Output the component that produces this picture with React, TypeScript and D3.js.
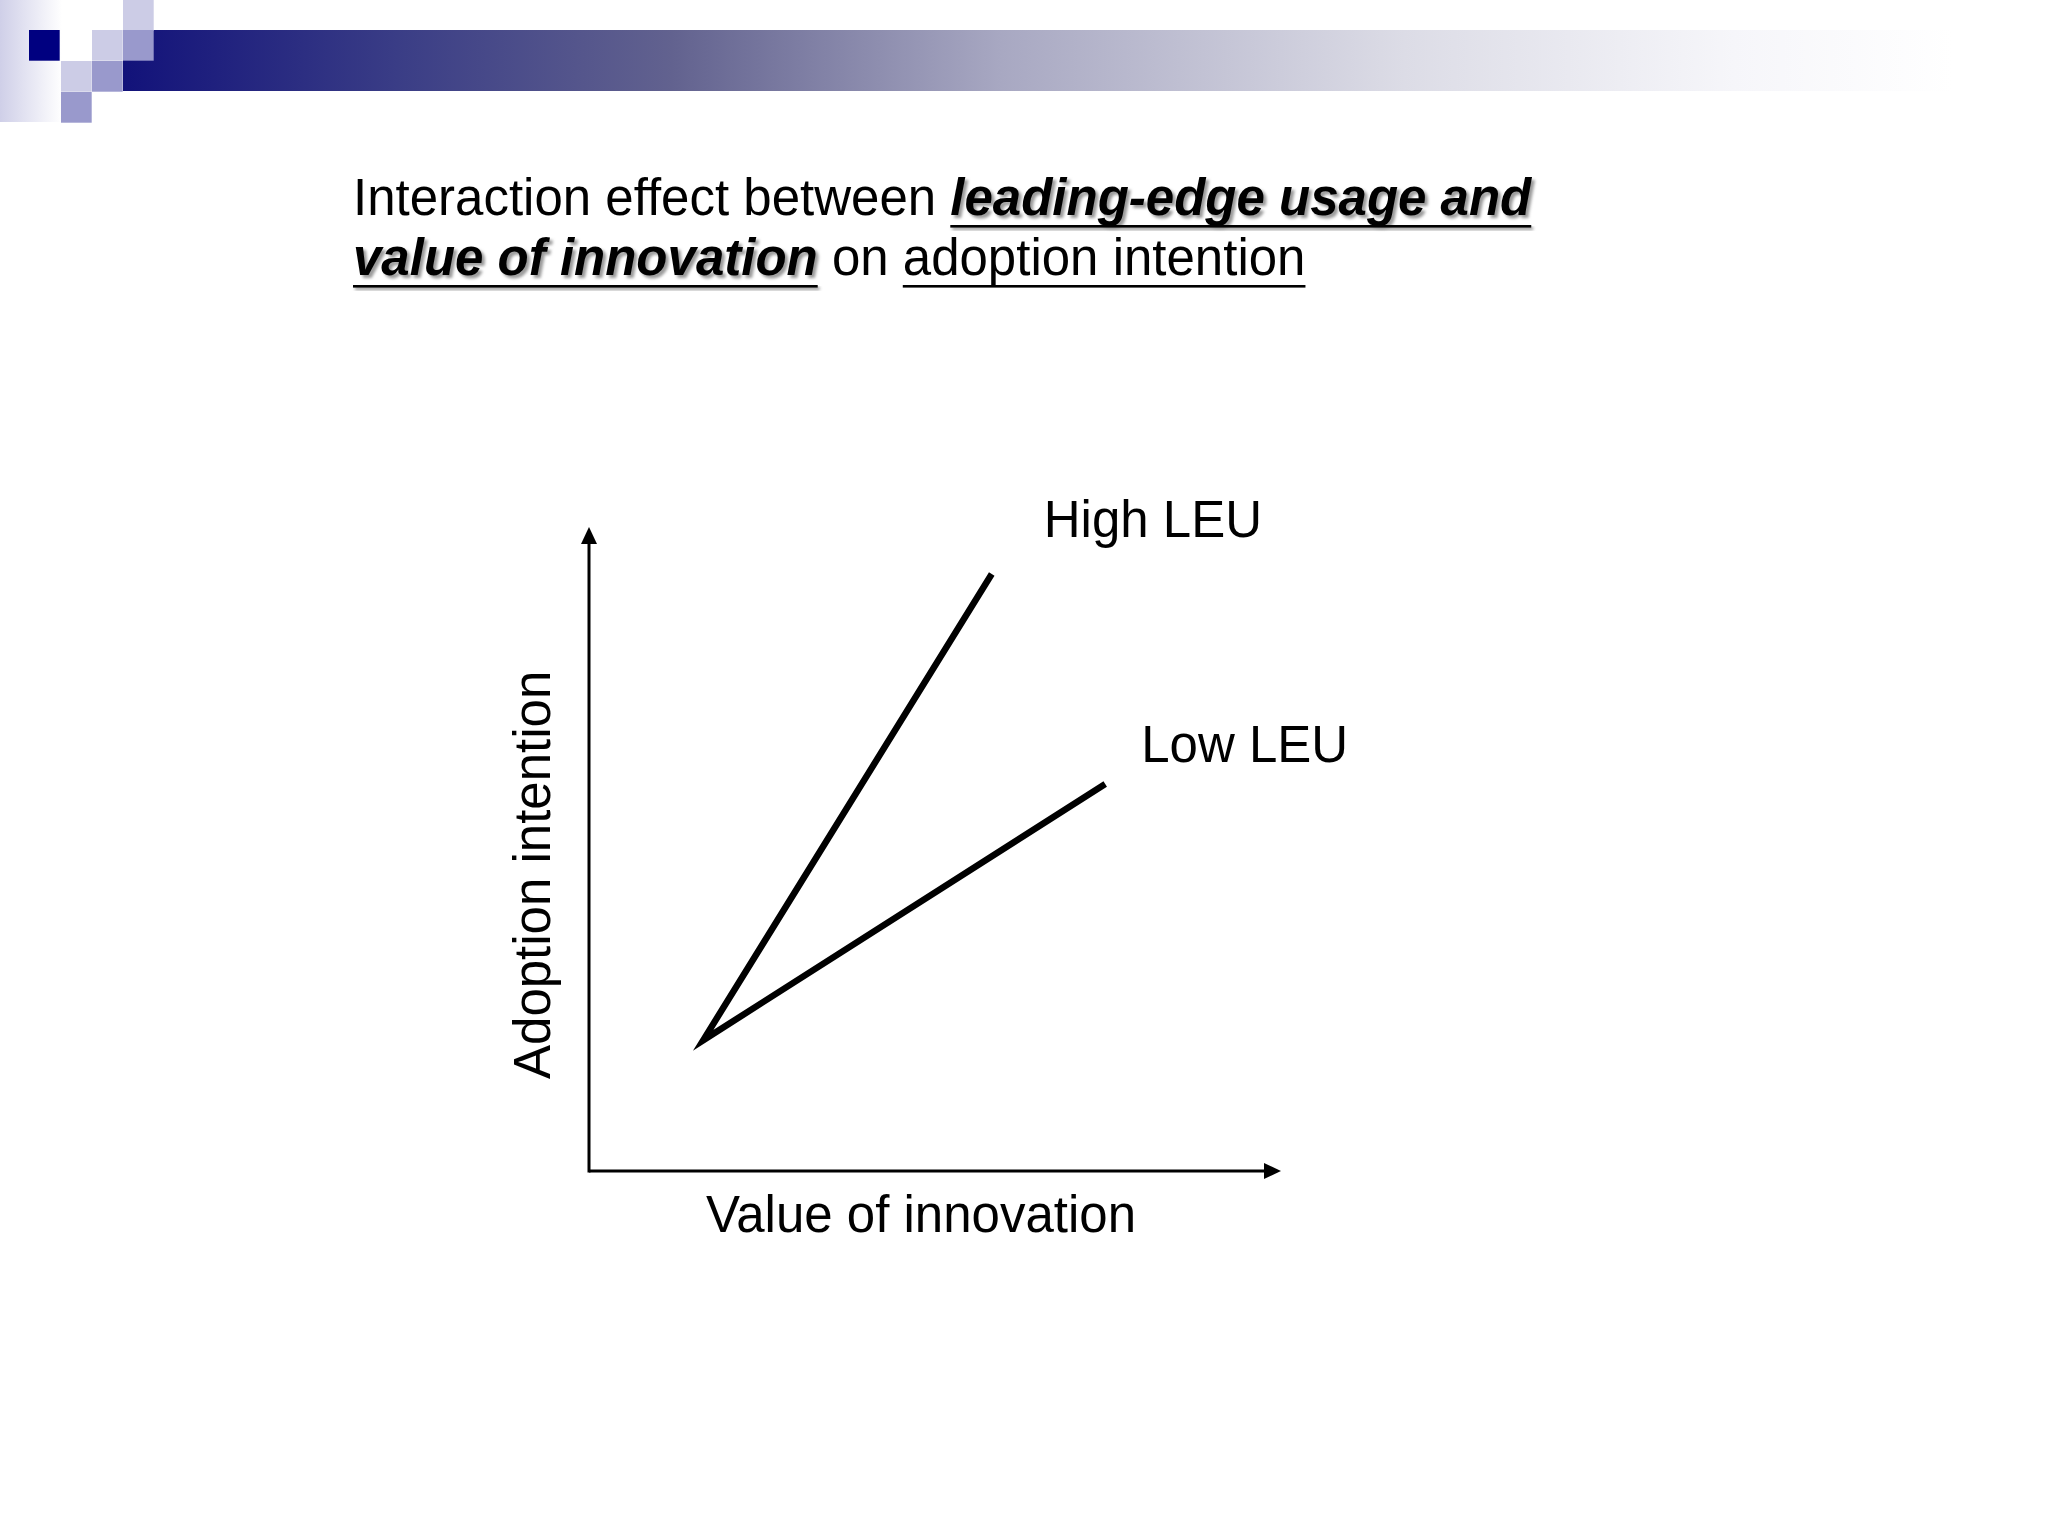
import React, { useEffect, useRef } from "react";
import * as d3 from "d3";

// ---- data ----
const seriesNames = ["High LEU", "Low LEU"];
const highLEUx = [1.65, 5.82];
const highLEUy = [2.03, 9.27];
const lowLEUx = [1.65, 7.46];
const lowLEUy = [2.03, 6.01];
const xDomain = [0, 10];
const yDomain = [0, 10];
const xAxisTitle = "Value of innovation";
const yAxisTitle = "Adoption intention";
const titleLine1 = [
  { text: "Interaction effect between ", strong: false, underline: false },
  { text: "leading-edge usage and", strong: true, underline: true },
];
const titleLine2 = [
  { text: "value of innovation", strong: true, underline: true },
  { text: " on ", strong: false, underline: false },
  { text: "adoption intention", strong: false, underline: true },
];

const FONT = "'Liberation Sans', Arial, Helvetica, sans-serif";

export default function App() {
  const ref = useRef<SVGSVGElement | null>(null);

  useEffect(() => {
    const svg = d3.select(ref.current);
    svg.selectAll("*").remove();

    const defs = svg.append("defs");
    const barGrad = defs.append("linearGradient").attr("id", "barGrad").attr("x1", "0").attr("x2", "1").attr("y1", "0").attr("y2", "0");
    [
      [0, "#12127a"],
      [0.15, "#3a3d86"],
      [0.3, "#62628f"],
      [0.48, "#a8a8c2"],
      [0.7, "#dcdce6"],
      [0.88, "#f6f6fa"],
      [1, "#ffffff"],
    ].forEach(([o, c]) => barGrad.append("stop").attr("offset", o as number).attr("stop-color", c as string));
    const leftGrad = defs.append("linearGradient").attr("id", "leftGrad").attr("x1", "0").attr("x2", "1");
    leftGrad.append("stop").attr("offset", 0).attr("stop-color", "#cfcfe8");
    leftGrad.append("stop").attr("offset", 1).attr("stop-color", "#ffffff");
    const blur = defs.append("filter").attr("id", "shadow").attr("x", "-5%").attr("y", "-20%").attr("width", "110%").attr("height", "140%");
    blur.append("feGaussianBlur").attr("stdDeviation", 1.6);

    // ---- header decoration ----
    const hdr = svg.append("g");
    hdr.append("rect").attr("x", 0).attr("y", 0).attr("width", 62).attr("height", 122).attr("fill", "url(#leftGrad)");
    hdr.append("rect").attr("x", 123).attr("y", 30).attr("width", 1830).attr("height", 61).attr("fill", "url(#barGrad)");
    const S = 30.7;
    const sq: [number, number, string][] = [
      [29, 30, "#000080"],
      [123, 0, "#ccccE6"],
      [92, 30, "#ccccE6"],
      [123, 30, "#9999cc"],
      [61, 61, "#ccccE6"],
      [92, 61, "#9999cc"],
      [61, 92, "#9999cc"],
    ];
    sq.forEach(([x, y, c]) => hdr.append("rect").attr("x", x).attr("y", y).attr("width", S).attr("height", S).attr("fill", c));

    // ---- title ----
    const fs = 51;
    const measure = (s: string, weight: string, style: string) => {
      const tmp = svg.append("text").attr("font-family", FONT).attr("font-size", fs).attr("font-weight", weight)
        .attr("font-style", style).style("white-space", "pre").text(s);
      const w = (tmp.node() as SVGTextElement).getComputedTextLength();
      tmp.remove();
      return w;
    };
    const drawLine = (parts: typeof titleLine1, x0: number, baseline: number) => {
      let x = x0;
      parts.forEach((p) => {
        const weight = p.strong ? "bold" : "normal";
        const style = p.strong ? "italic" : "normal";
        const trimmed = p.text.trim();
        const leadW = p.text.startsWith(" ") ? measure(" ", weight, style) : 0;
        const trailW = p.text.endsWith(" ") ? measure(" ", weight, style) : 0;
        const tx = x + leadW;
        if (p.strong) {
          svg.append("text").attr("x", tx + 3).attr("y", baseline + 3).attr("font-family", FONT).attr("font-size", fs)
            .attr("font-weight", weight).attr("font-style", style).attr("fill", "#9a9a9a").attr("filter", "url(#shadow)").text(trimmed);
        }
        const t = svg.append("text").attr("x", tx).attr("y", baseline).attr("font-family", FONT).attr("font-size", fs)
          .attr("font-weight", weight).attr("font-style", style).attr("fill", "#000").text(trimmed);
        const w = (t.node() as SVGTextElement).getComputedTextLength();
        if (p.underline) {
          if (p.strong) {
            svg.append("rect").attr("x", tx + 2).attr("y", baseline + 12).attr("width", w).attr("height", 3).attr("fill", "#9a9a9a").attr("filter", "url(#shadow)");
          }
          svg.append("rect").attr("x", tx).attr("y", baseline + 10).attr("width", w).attr("height", 2.6).attr("fill", "#000");
        }
        x = tx + w + trailW;
      });
    };
    drawLine(titleLine1, 353, 215);
    drawLine(titleLine2, 353, 275);

    // ---- chart ----
    const x = d3.scaleLinear().domain(xDomain).range([589, 1281]);
    const y = d3.scaleLinear().domain(yDomain).range([1171, 527]);
    const g = svg.append("g");

    // axes
    g.append("line").attr("x1", x(0)).attr("x2", x(10) - 12).attr("y1", y(0)).attr("y2", y(0)).attr("stroke", "#000").attr("stroke-width", 3);
    g.append("line").attr("x1", x(0)).attr("x2", x(0)).attr("y1", y(0) + 1.5).attr("y2", y(10) + 12).attr("stroke", "#000").attr("stroke-width", 3);
    g.append("path").attr("d", `M${x(10)},${y(0)} L${x(10) - 17},${y(0) - 8} L${x(10) - 17},${y(0) + 8} Z`).attr("fill", "#000");
    g.append("path").attr("d", `M${x(0)},${y(10)} L${x(0) - 8},${y(10) + 17} L${x(0) + 8},${y(10) + 17} Z`).attr("fill", "#000");

    // series lines (joined at common origin)
    const line = d3.line<[number, number]>().x((d) => x(d[0])).y((d) => y(d[1]));
    const pts: [number, number][] = [
      [highLEUx[1], highLEUy[1]],
      [highLEUx[0], highLEUy[0]],
      [lowLEUx[0], lowLEUy[0]],
      [lowLEUx[1], lowLEUy[1]],
    ];
    g.append("path").attr("d", line(pts)).attr("fill", "none").attr("stroke", "#000").attr("stroke-width", 6.5)
      .attr("stroke-linejoin", "miter").attr("stroke-miterlimit", 10).attr("stroke-linecap", "butt");

    // series labels
    const labelOffsets = [[52, -37], [36, -22]];
    const ends = [[highLEUx[1], highLEUy[1]], [lowLEUx[1], lowLEUy[1]]];
    seriesNames.forEach((n, i) => {
      g.append("text").attr("x", x(ends[i][0]) + labelOffsets[i][0]).attr("y", y(ends[i][1]) + labelOffsets[i][1])
        .attr("font-family", FONT).attr("font-size", 51).attr("fill", "#000").text(n);
    });

    // axis titles
    g.append("text").attr("x", 706).attr("y", 1232).attr("font-family", FONT).attr("font-size", 51).attr("fill", "#000").text(xAxisTitle);
    g.append("text").attr("transform", `translate(550,1079) rotate(-90)`).attr("font-family", FONT).attr("font-size", 51).attr("fill", "#000").text(yAxisTitle);
  }, []);

  return (
    <svg ref={ref} width={2048} height={1536} style={{ position: "absolute", left: 0, top: 0, background: "#fff" }} />
  );
}
